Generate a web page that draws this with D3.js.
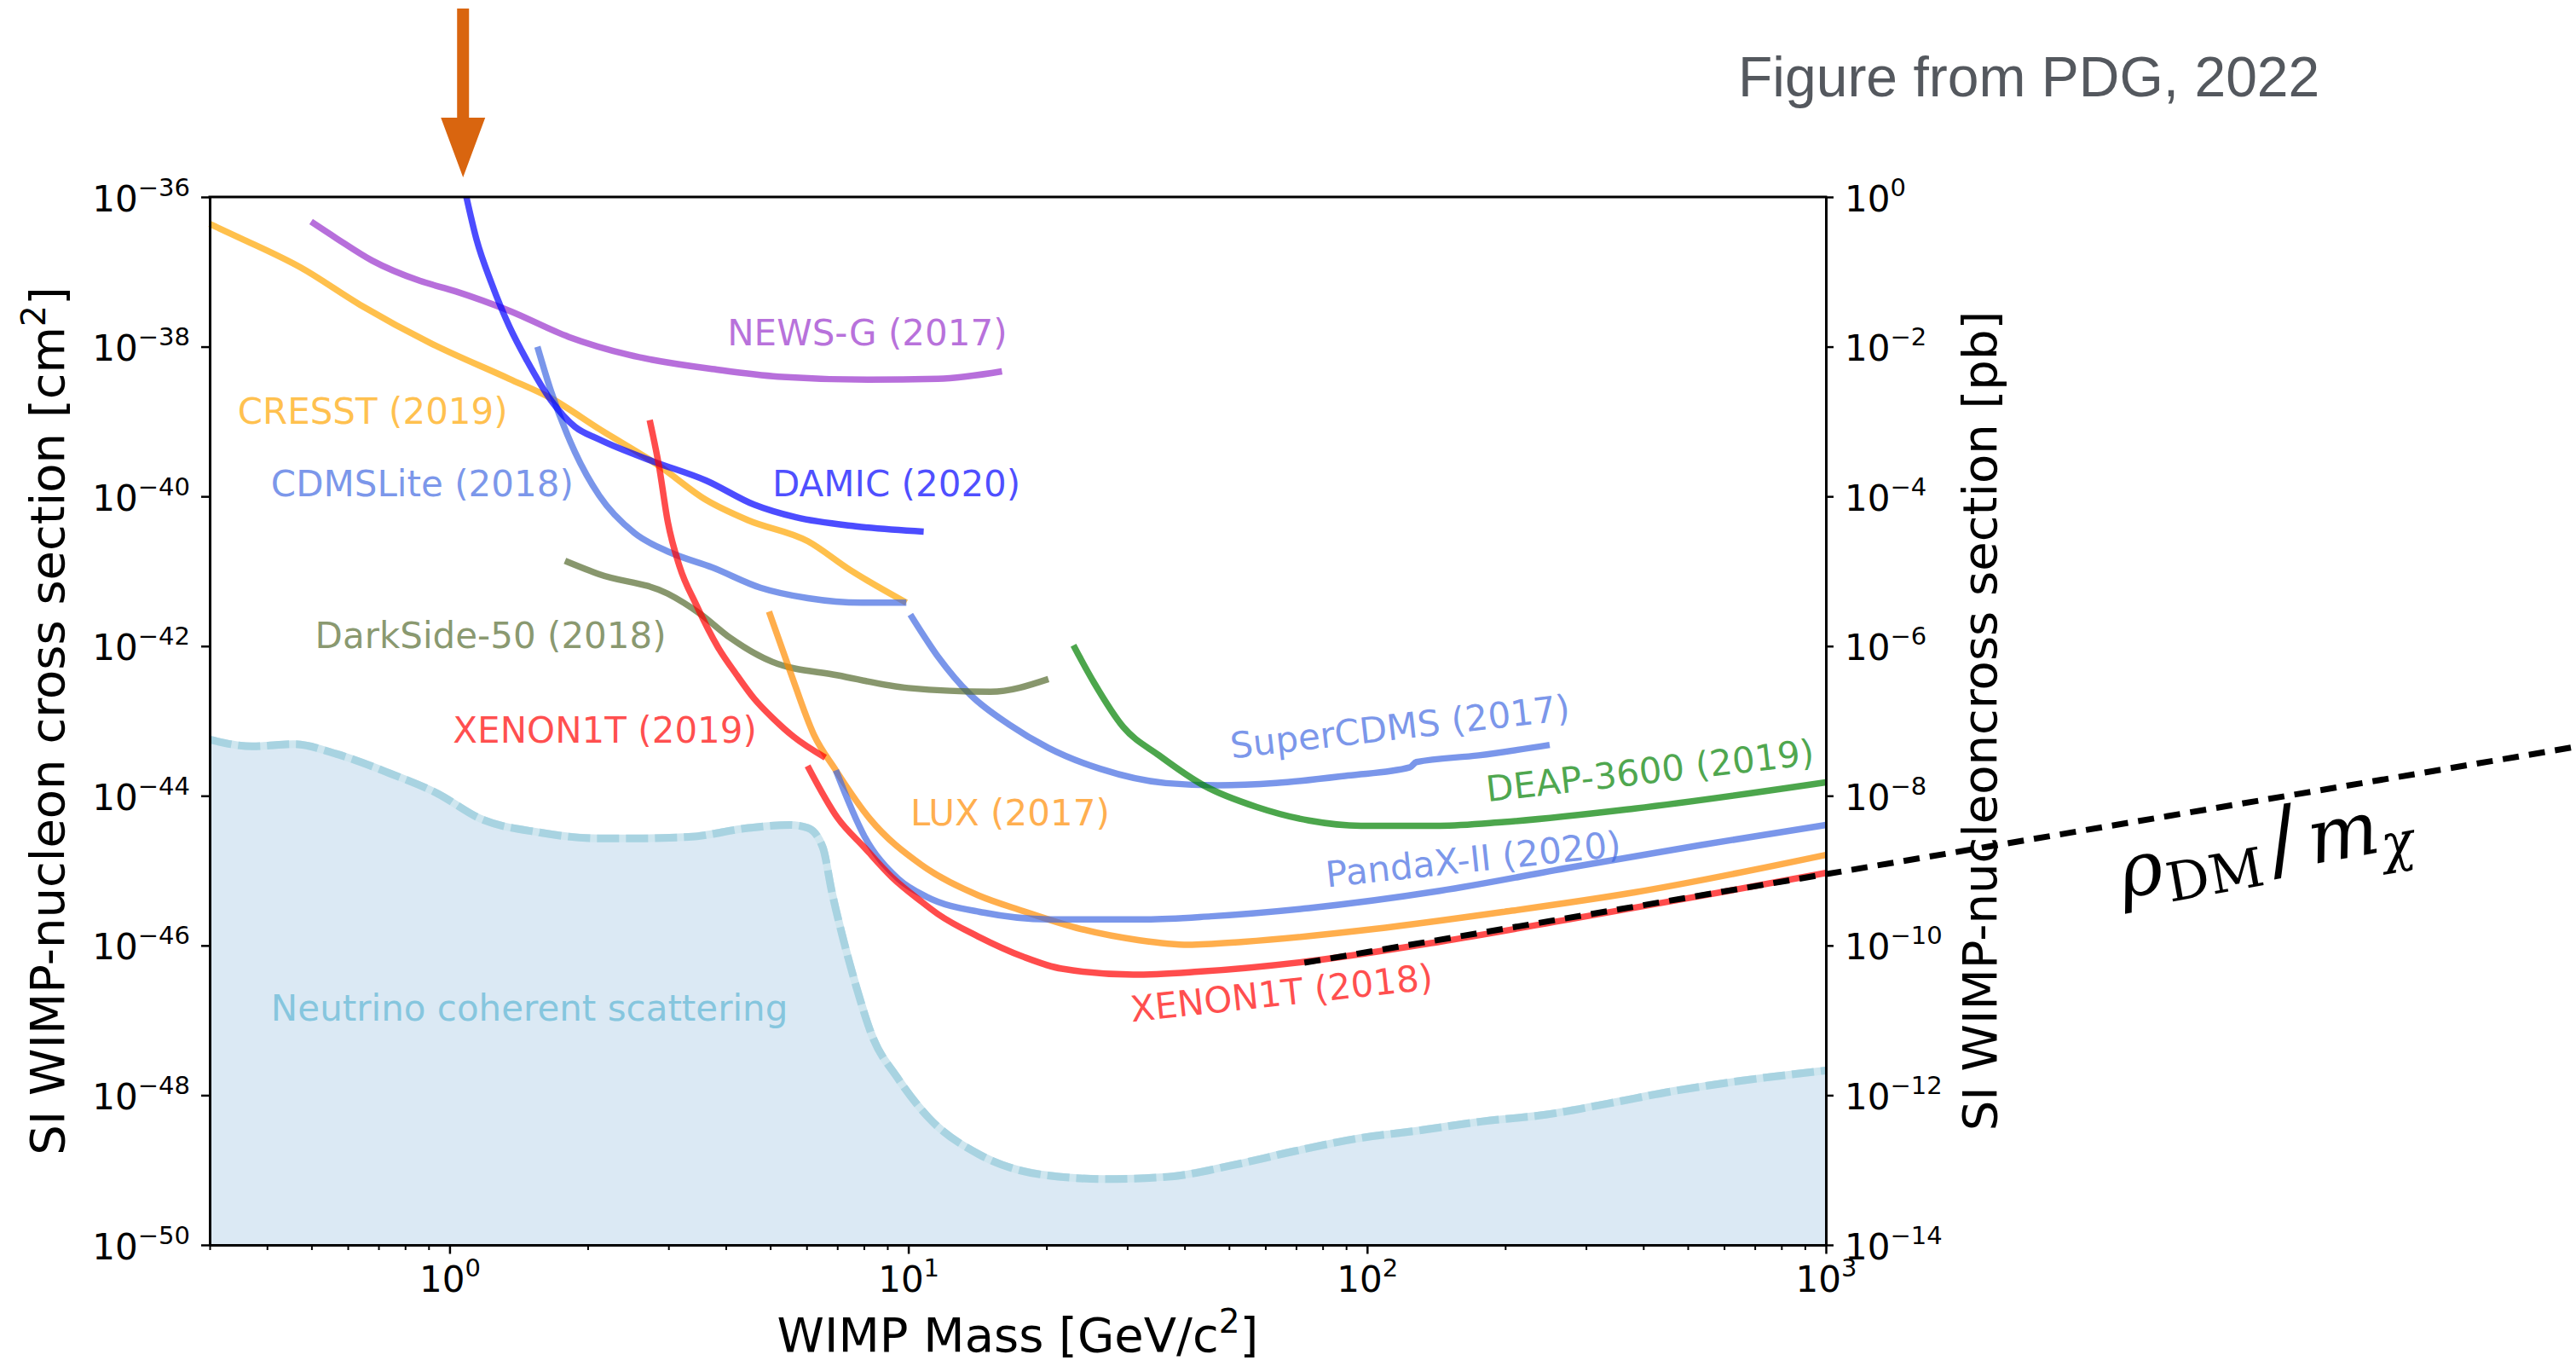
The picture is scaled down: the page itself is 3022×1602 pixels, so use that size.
<!DOCTYPE html>
<html lang="en">
<head>
  <meta charset="UTF-8">
  <title>SI WIMP-nucleon cross section limits</title>
  <script src="https://d3js.org/d3.v7.min.js"></script>
  <style>
    body { margin: 0; background: #fff; }
    svg { display: block; font-family: "DejaVu Sans", sans-serif; }
  </style>
</head>
<body>
<svg width="3022" height="1602"></svg>

<script>
  // Each curve: [WIMP mass in GeV, log10 of cross section in cm^2]
  const cresst2019 = [[0.3,-36.36],[0.35,-36.55],[0.473,-36.94],[0.638,-37.44],[0.914,-37.96],[1.35,-38.43],[1.665,-38.69],[2.12,-39.10],[2.86,-39.59],[3.63,-40.05],[4.48,-40.32],[6.04,-40.60],[7.45,-40.98],[9.9,-41.42]];
  const newsg2017 = [[0.499,-36.33],[0.566,-36.55],[0.678,-36.85],[0.861,-37.12],[1.03,-37.26],[1.35,-37.52],[1.82,-37.87],[2.46,-38.11],[3.86,-38.31],[5.2,-38.40],[8.15,-38.44],[11.6,-38.43],[16.0,-38.33]];
  const damic2020 = [[1.088,-36.0],[1.145,-36.57],[1.234,-37.15],[1.35,-37.73],[1.476,-38.19],[1.665,-38.72],[1.876,-39.07],[2.12,-39.24],[2.77,-39.53],[3.63,-39.79],[4.61,-40.11],[5.69,-40.28],[7.68,-40.40],[10.8,-40.47]];
  const cdmslite2018 = [[1.554,-38.0],[1.665,-38.60],[1.877,-39.41],[2.12,-39.99],[2.53,-40.49],[3.03,-40.75],[3.74,-40.95],[4.76,-41.22],[6.04,-41.36],[7.91,-41.42],[9.9,-41.42]];
  const supercdms2017 = [[10.1,-41.58],[11.6,-42.14],[13.65,-42.65],[16.6,-43.05],[20.2,-43.36],[26.2,-43.64],[36.4,-43.83],[47.3,-43.86],[63.4,-43.83],[90.8,-43.73],[124,-43.62],[128,-43.55],[175,-43.46],[250,-43.32]];
  const darkside2018 = [[1.785,-40.86],[2.12,-41.04],[2.99,-41.30],[3.52,-41.57],[4.09,-41.89],[5.05,-42.21],[7.02,-42.39],[10,-42.56],[15.1,-42.61],[20.2,-42.44]];
  const deap2019 = [[22.9,-41.99],[25.4,-42.49],[29.4,-43.08],[35.2,-43.46],[44.3,-43.87],[57.5,-44.15],[74.7,-44.33],[97,-44.40],[144,-44.40],[199,-44.35],[383,-44.17],[1000,-43.82]];
  const xenon2019 = [[2.73,-38.98],[2.86,-39.59],[2.99,-40.34],[3.17,-40.93],[3.45,-41.45],[3.85,-42.02],[4.22,-42.38],[4.61,-42.70],[5.1,-42.98],[5.62,-43.21],[6.59,-43.49]];
  const lux2017 = [[4.97,-41.54],[5.52,-42.33],[6.22,-43.18],[6.95,-43.66],[8.25,-44.31],[10.66,-44.92],[14.2,-45.33],[17.8,-45.54],[23.8,-45.78],[31.9,-45.93],[40.8,-45.99],[53.8,-45.95],[103.5,-45.78],[199,-45.55],[383,-45.29],[1000,-44.79]];
  const pandax2020 = [[6.95,-43.66],[8.02,-44.54],[9.51,-45.11],[10.97,-45.35],[14.6,-45.56],[20.2,-45.65],[33,-45.65],[45.7,-45.61],[74.7,-45.50],[144,-45.27],[276,-44.96],[531,-44.66],[1000,-44.39]];
  const xenon2018 = [[6.03,-43.60],[7.02,-44.30],[8.02,-44.69],[9.22,-45.09],[10.66,-45.41],[11.6,-45.58],[14.2,-45.88],[17.8,-46.15],[21.6,-46.31],[30.9,-46.39],[42.8,-46.35],[74.7,-46.21],[144,-45.95],[276,-45.65],[531,-45.34],[1000,-45.03]];
  const neutrinoFloor = [[0.3,-43.25],[0.372,-43.34],[0.459,-43.31],[0.566,-43.44],[0.741,-43.70],[0.942,-43.97],[1.162,-44.30],[1.57,-44.49],[2.12,-44.57],[2.46,-44.57],[3.32,-44.55],[4.48,-44.43],[5.52,-44.39],[6.04,-44.43],[6.51,-44.69],[6.81,-45.28],[7.23,-45.94],[7.7,-46.55],[8.33,-47.2],[9.45,-47.76],[11.07,-48.30],[14.25,-48.79],[19.5,-49.06],[26.8,-49.12],[36.8,-49.09],[50.5,-48.94],[69.2,-48.75],[94.9,-48.58],[130,-48.47],[178.5,-48.35],[245,-48.26],[336,-48.11],[460,-47.95],[631,-47.82],[1000,-47.67]];
  // rho_DM / m_chi line, runs past the right axis
  const fluxLine = [[73,-46.23],[42700,-43.35]];

  const xTicks = [1, 10, 100, 1000];
  const yTicks = [1e-50, 1e-48, 1e-46, 1e-44, 1e-42, 1e-40, 1e-38, 1e-36];
  const y2Ticks = [1e-14, 1e-12, 1e-10, 1e-8, 1e-6, 1e-4, 1e-2, 1];

  // label text and where it sits, in data coordinates [mass, log10 sigma, rotation]
  const labelNames = ["NEWS-G (2017)", "CRESST (2019)", "CDMSLite (2018)", "DAMIC (2020)", "DarkSide-50 (2018)",
    "XENON1T (2019)", "LUX (2017)", "SuperCDMS (2017)", "DEAP-3600 (2019)", "PandaX-II (2020)", "XENON1T (2018)",
    "Neutrino coherent scattering"];
  const labelAnchors = [[4.03,-37.98,0],[0.345,-39.03,0],[0.408,-40.0,0],[5.05,-40.0,0],[0.509,-42.03,0],
    [1.017,-43.29,0],[10.1,-44.39,0],[50.7,-43.50,-6.5],[183,-44.08,-6.5],[81.8,-45.22,-6.0],[30.7,-47.02,-6.2],
    [0.408,-47.0,0]];

  const colors = {
    cresst: "orange", lux: "darkorange", newsg: "darkorchid", damic: "blue",
    cdms: "royalblue", xenon: "red", darkside: "darkolivegreen", deap: "green"
  };

  const curves = [
    {data: cresst2019, color: colors.cresst},
    {data: newsg2017, color: colors.newsg},
    {data: cdmslite2018, color: colors.cdms},
    {data: supercdms2017, color: colors.cdms},
    {data: damic2020, color: colors.damic},
    {data: darkside2018, color: colors.darkside},
    {data: deap2019, color: colors.deap},
    {data: lux2017, color: colors.lux},
    {data: pandax2020, color: colors.cdms},
    {data: xenon2019, color: colors.xenon},
    {data: xenon2018, color: colors.xenon}
  ];
  const labelColors = [colors.newsg, colors.cresst, colors.cdms, colors.damic, colors.darkside,
    colors.xenon, colors.lux, colors.cdms, colors.deap, colors.cdms, colors.xenon, null];

  const svg = d3.select("svg");
  const plotLeft = 246, plotRight = 2142, plotTop = 231, plotBottom = 1460;

  const x = d3.scaleLog().domain([0.3, 1000]).range([plotLeft, plotRight]);
  const y = d3.scaleLog().domain([1e-50, 1e-36]).range([plotBottom, plotTop]);
  const y2 = d3.scaleLog().domain([1e-14, 1]).range([plotBottom, plotTop]);

  const line = d3.line()
    .x(d => x(d[0]))
    .y(d => y(Math.pow(10, d[1])))
    .curve(d3.curveMonotoneX);

  // neutrino floor
  const area = d3.area()
    .x(d => x(d[0]))
    .y0(plotBottom)
    .y1(d => y(Math.pow(10, d[1])))
    .curve(d3.curveMonotoneX);

  svg.append("path").datum(neutrinoFloor)
    .attr("d", area)
    .attr("fill", "#dbe9f4");
  svg.append("path").datum(neutrinoFloor)
    .attr("d", line)
    .attr("fill", "none").attr("stroke", "#cfe6ef").attr("stroke-width", 9);
  svg.append("path").datum(neutrinoFloor)
    .attr("d", line)
    .attr("fill", "none").attr("stroke", "#a8d3e1").attr("stroke-width", 9)
    .attr("stroke-dasharray", "26 8");

  // limit curves
  svg.selectAll("path.limit")
    .data(curves)
    .join("path")
      .attr("class", "limit")
      .attr("d", d => line(d.data))
      .attr("fill", "none")
      .attr("stroke", d => d.color)
      .attr("stroke-opacity", 0.7)
      .attr("stroke-width", 7.5)
      .attr("stroke-linejoin", "round");

  // axes
  const fmtExp = v => {
    const e = Math.round(Math.log10(v));
    return e < 0 ? "\u2212" + (-e) : String(e);
  };
  function powerLabel(sel, anchor, dx, base) {
    sel.select("text").remove();
    sel.each(function(d) {
      const t = d3.select(this).append("text")
        .attr("fill", "#000")
        .attr("font-family", "DejaVu Sans")
        .attr("font-size", 42)
        .attr("text-anchor", anchor)
        .attr("x", dx)
        .attr("y", base);
      t.append("tspan").text("10");
      t.append("tspan").attr("font-size", 29).attr("dy", -18).text(fmtExp(d));
    });
  }

  const gx = svg.append("g").attr("transform", `translate(0,${plotBottom})`);
  const minor = [];
  [0.1, 1, 10, 100].forEach(dec => {
    for (let k = 2; k <= 9; k++) {
      const v = k * dec;
      if (v >= 0.3 && v <= 1000) minor.push(v);
    }
  });
  gx.append("g").call(d3.axisBottom(x).tickValues(minor).tickSize(6).tickSizeOuter(0).tickFormat(""))
    .call(g => g.select(".domain").remove())
    .call(g => g.selectAll(".tick text").remove())
    .call(g => g.selectAll(".tick line").attr("stroke-width", 2));
  gx.append("g").call(d3.axisBottom(x).tickValues(xTicks).tickSize(10.5).tickSizeOuter(0).tickFormat(""))
    .call(g => g.select(".domain").attr("stroke-width", 3))
    .call(g => g.selectAll(".tick line").attr("stroke-width", 2.5))
    .call(g => powerLabel(g.selectAll(".tick"), "middle", 0, 55));

  const gy = svg.append("g").attr("transform", `translate(${plotLeft},0)`);
  gy.call(d3.axisLeft(y).tickValues(yTicks).tickSize(10).tickSizeOuter(0).tickFormat(""))
    .call(g => g.select(".domain").attr("stroke-width", 3))
    .call(g => g.selectAll(".tick line").attr("stroke-width", 2.5))
    .call(g => powerLabel(g.selectAll(".tick"), "end", -23, 16));

  const gy2 = svg.append("g").attr("transform", `translate(${plotRight},0)`);
  gy2.call(d3.axisRight(y2).tickValues(y2Ticks).tickSize(9).tickSizeOuter(0).tickFormat(""))
    .call(g => g.select(".domain").attr("stroke-width", 3))
    .call(g => g.selectAll(".tick line").attr("stroke-width", 2.5))
    .call(g => powerLabel(g.selectAll(".tick"), "start", 22, 16));

  svg.append("line")
    .attr("x1", plotLeft - 1.5).attr("x2", plotRight + 1.5)
    .attr("y1", plotTop).attr("y2", plotTop)
    .attr("stroke", "#000").attr("stroke-width", 3);

  // curve labels
  labelNames.forEach((name, i) => {
    const [m, s, rot] = labelAnchors[i];
    const t = svg.append("text")
      .attr("transform", `translate(${x(m)},${y(Math.pow(10, s))}) rotate(${rot})`)
      .attr("font-size", 42)
      .text(name);
    if (labelColors[i]) t.attr("fill", labelColors[i]).attr("fill-opacity", 0.7);
    else t.attr("fill", "#86c6de");
  });

  // rho_DM / m_chi line and label
  svg.append("path").datum(fluxLine)
    .attr("d", d3.line().x(d => x(d[0])).y(d => y(Math.pow(10, d[1]))))
    .attr("fill", "none").attr("stroke", "#000").attr("stroke-width", 7)
    .attr("stroke-dasharray", "19 12");

  const rho = svg.append("text")
    .attr("transform", `translate(${x(4440)},${y(Math.pow(10, -45.37))}) rotate(-10.2)`)
    .attr("font-family", "DejaVu Serif, serif")
    .attr("font-size", 88)
    .attr("fill", "#000");
  rho.append("tspan").attr("font-style", "italic").text("\u03c1");
  rho.append("tspan").attr("font-size", 63).attr("dy", 14).attr("dx", 2).text("DM");
  rho.append("tspan").attr("font-size", 104).attr("dy", -14).attr("dx", 10).text("/");
  rho.append("tspan").attr("font-style", "italic").attr("dx", 12).text("m");
  rho.append("tspan").attr("font-style", "italic").attr("font-size", 63).attr("dy", 14).attr("dx", 0).text("\u03c7");

  // axis titles
  const xl = svg.append("text")
    .attr("x", (plotLeft + plotRight) / 2).attr("y", 1585)
    .attr("text-anchor", "middle").attr("font-size", 56).attr("fill", "#000");
  xl.append("tspan").text("WIMP Mass [GeV/c");
  xl.append("tspan").attr("font-size", 39).attr("dy", -22).text("2");
  xl.append("tspan").attr("dy", 22).text("]");

  const yl = svg.append("text")
    .attr("transform", `translate(75,${(plotTop + plotBottom) / 2}) rotate(-90)`)
    .attr("text-anchor", "middle").attr("font-size", 56).attr("fill", "#000");
  yl.append("tspan").text("SI WIMP-nucleon cross section [cm");
  yl.append("tspan").attr("font-size", 39).attr("dy", -22).text("2");
  yl.append("tspan").attr("dy", 22).text("]");

  svg.append("text")
    .attr("transform", `translate(2342,${(plotTop + plotBottom) / 2}) rotate(-90)`)
    .attr("text-anchor", "middle").attr("font-size", 56).attr("fill", "#000")
    .text("SI WIMP-nucleoncross section [pb]");

  // source note and arrow
  svg.append("text")
    .attr("x", 2039).attr("y", 113)
    .attr("font-family", "Liberation Sans, Arial, sans-serif")
    .attr("font-size", 66).attr("fill", "#54585e")
    .text("Figure from PDG, 2022");

  const ax = x(1.07);
  svg.append("path")
    .attr("d", `M${ax - 7},10 L${ax + 7},10 L${ax + 7},138 L${ax + 26},138 L${ax},208 L${ax - 26},138 L${ax - 7},138 Z`)
    .attr("fill", "#d9650f");
</script>
</body>
</html>
